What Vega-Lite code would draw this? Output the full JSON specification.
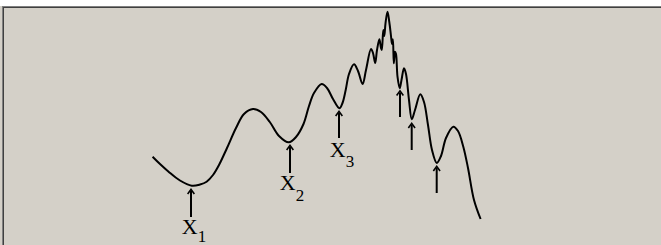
{
  "$schema": "https://vega.github.io/schema/vega-lite/v6.json",
  "width": 661,
  "height": 245,
  "padding": 0,
  "autosize": {"type": "none"},
  "background": "#ffffff",
  "config": {"view": {"fill": "#d4d0c8", "stroke": null}},
  "datasets": {
    "one": [{"k": 1}],
    "curve": [
      {"x": 152.6, "y": 156.7}, {"x": 160, "y": 164}, {"x": 168.6, "y": 171.7}, {"x": 180, "y": 180.5},
      {"x": 191.8, "y": 185.7}, {"x": 200, "y": 184.5}, {"x": 206.6, "y": 181.7}, {"x": 213, "y": 175},
      {"x": 219, "y": 165}, {"x": 227, "y": 148}, {"x": 236, "y": 128}, {"x": 244, "y": 114},
      {"x": 253, "y": 109}, {"x": 261, "y": 112}, {"x": 269.8, "y": 122}, {"x": 279, "y": 136},
      {"x": 288.8, "y": 142.3}, {"x": 296, "y": 137}, {"x": 303.5, "y": 124}, {"x": 309, "y": 106},
      {"x": 314, "y": 93}, {"x": 321.7, "y": 84}, {"x": 327, "y": 88}, {"x": 333, "y": 99},
      {"x": 339.4, "y": 108.3}, {"x": 342.5, "y": 103}, {"x": 345.7, "y": 90}, {"x": 349, "y": 74},
      {"x": 354, "y": 64.3}, {"x": 358, "y": 71}, {"x": 362.6, "y": 84}, {"x": 366, "y": 70},
      {"x": 371, "y": 49}, {"x": 373, "y": 53}, {"x": 375.2, "y": 63}, {"x": 377, "y": 50},
      {"x": 379.4, "y": 39.3}, {"x": 381, "y": 48}, {"x": 381.8, "y": 50}, {"x": 383.3, "y": 30},
      {"x": 384.3, "y": 36}, {"x": 385.5, "y": 23.3}, {"x": 387.5, "y": 11.7}, {"x": 389.3, "y": 22},
      {"x": 391, "y": 36}, {"x": 392, "y": 44}, {"x": 392.9, "y": 39.3}, {"x": 393.8, "y": 63.3},
      {"x": 395, "y": 51.7}, {"x": 396, "y": 54}, {"x": 397.5, "y": 76.7}, {"x": 399.7, "y": 88.3},
      {"x": 401.5, "y": 80}, {"x": 404, "y": 68.3}, {"x": 406, "y": 74}, {"x": 409, "y": 100},
      {"x": 411.8, "y": 119.3}, {"x": 415, "y": 110}, {"x": 420.3, "y": 94.3}, {"x": 424, "y": 102},
      {"x": 428, "y": 125}, {"x": 432, "y": 150}, {"x": 436.8, "y": 163}, {"x": 441, "y": 156},
      {"x": 446, "y": 138}, {"x": 453.3, "y": 126.7}, {"x": 458, "y": 131}, {"x": 463.3, "y": 146.7},
      {"x": 468, "y": 168}, {"x": 474, "y": 200}, {"x": 480.6, "y": 219}
    ],
    "arrows": [
      {"x": 191, "top": 191, "bottom": 217},
      {"x": 290, "top": 147, "bottom": 173},
      {"x": 339, "top": 113, "bottom": 138},
      {"x": 400, "top": 92.5, "bottom": 117},
      {"x": 411.7, "top": 125, "bottom": 150},
      {"x": 436.7, "top": 168, "bottom": 193}
    ],
    "labels": [
      {"text": "X", "kind": "main", "x": 189.7, "y": 234},
      {"text": "1", "kind": "sub", "x": 202, "y": 242},
      {"text": "X", "kind": "main", "x": 287.7, "y": 190},
      {"text": "2", "kind": "sub", "x": 300, "y": 200.7},
      {"text": "X", "kind": "main", "x": 337.7, "y": 156.7},
      {"text": "3", "kind": "sub", "x": 350, "y": 166.7}
    ]
  },
  "layer": [
    {
      "data": {"name": "one"},
      "mark": {"type": "rect", "color": "#ffffff"},
      "encoding": {
        "x": {"datum": 0, "type": "quantitative", "scale": {"domain": [0, 661], "nice": false, "zero": false}, "axis": null},
        "x2": {"datum": 661},
        "y": {"datum": 0, "type": "quantitative", "scale": {"domain": [0, 245], "reverse": true, "nice": false, "zero": false}, "axis": null},
        "y2": {"datum": 6}
      }
    },
    {
      "data": {"name": "one"},
      "mark": {"type": "rule", "color": "#808080", "strokeWidth": 1},
      "encoding": {
        "x": {"datum": 2, "type": "quantitative"}, "x2": {"datum": 661},
        "y": {"datum": 6.5, "type": "quantitative"}
      }
    },
    {
      "data": {"name": "one"},
      "mark": {"type": "rule", "color": "#404040", "strokeWidth": 1},
      "encoding": {
        "x": {"datum": 3, "type": "quantitative"}, "x2": {"datum": 661},
        "y": {"datum": 7.5, "type": "quantitative"}
      }
    },
    {
      "data": {"name": "one"},
      "mark": {"type": "rule", "color": "#808080", "strokeWidth": 1},
      "encoding": {
        "x": {"datum": 2.5, "type": "quantitative"},
        "y": {"datum": 6, "type": "quantitative"}, "y2": {"datum": 245}
      }
    },
    {
      "data": {"name": "one"},
      "mark": {"type": "rule", "color": "#404040", "strokeWidth": 1},
      "encoding": {
        "x": {"datum": 3.5, "type": "quantitative"},
        "y": {"datum": 7, "type": "quantitative"}, "y2": {"datum": 245}
      }
    },
    {
      "data": {"name": "curve"},
      "mark": {"type": "line", "color": "#000000", "strokeWidth": 2, "interpolate": "catmull-rom"},
      "encoding": {
        "x": {"field": "x", "type": "quantitative"},
        "y": {"field": "y", "type": "quantitative"}
      }
    },
    {
      "data": {"name": "arrows"},
      "mark": {"type": "rule", "color": "#000000", "strokeWidth": 2},
      "encoding": {
        "x": {"field": "x", "type": "quantitative"},
        "y": {"field": "top", "type": "quantitative"},
        "y2": {"field": "bottom"}
      }
    },
    {
      "data": {"name": "arrows"},
      "mark": {"type": "point", "shape": "M-1,0.9L0,-0.5L1,0.9", "filled": false, "stroke": "#000000", "strokeWidth": 1.6, "size": 45, "opacity": 1},
      "encoding": {
        "x": {"field": "x", "type": "quantitative"},
        "y": {"field": "top", "type": "quantitative"}
      }
    },
    {
      "data": {"name": "labels"},
      "transform": [{"filter": "datum.kind == 'main'"}],
      "mark": {"type": "text", "font": "Liberation Serif", "fontSize": 22, "align": "center", "baseline": "alphabetic", "color": "#000000"},
      "encoding": {
        "x": {"field": "x", "type": "quantitative"},
        "y": {"field": "y", "type": "quantitative"},
        "text": {"field": "text"}
      }
    },
    {
      "data": {"name": "labels"},
      "transform": [{"filter": "datum.kind == 'sub'"}],
      "mark": {"type": "text", "font": "Liberation Serif", "fontSize": 17, "align": "center", "baseline": "alphabetic", "color": "#000000"},
      "encoding": {
        "x": {"field": "x", "type": "quantitative"},
        "y": {"field": "y", "type": "quantitative"},
        "text": {"field": "text"}
      }
    }
  ]
}
